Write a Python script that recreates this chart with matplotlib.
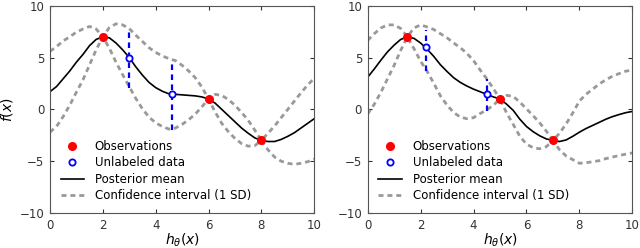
import matplotlib
matplotlib.use('Agg')
import matplotlib.pyplot as plt
import numpy as np

# grid the curves were read on (step 0.25)
x_grid = np.arange(0, 10.001, 0.25)

# left panel
mean_left = [1.7, 2.2, 2.95, 3.7, 4.55, 5.3, 6.15, 6.75, 7.0,
             6.9, 6.4, 5.75, 5.0, 4.1, 3.3, 2.6, 2.1, 1.75, 1.5, 1.45, 1.4, 1.35, 1.3, 1.2, 1.0,
             0.6, 0.0, -0.6, -1.2, -1.8, -2.3, -2.75, -3.0,
             -3.1, -3.1, -2.9, -2.6, -2.25, -1.8, -1.35, -0.9]
sd_left = [3.9, 3.85, 3.65, 3.3, 2.9, 2.45, 1.85, 1.0, 0.0,
           1.0, 1.85, 2.4, 2.8, 3.05, 3.25, 3.35, 3.4, 3.4, 3.4, 3.25, 2.85, 2.35, 1.75, 0.95, 0.0,
           0.85, 1.35, 1.55, 1.6, 1.5, 1.25, 0.75, 0.0,
           0.8, 1.5, 2.1, 2.6, 3.05, 3.4, 3.7, 3.9]
obs_x_left = [2, 6, 8]
obs_y_left = [7, 1, -3]
unl_x_left = [3.0, 4.6]
unl_y_left = [5.0, 1.45]
unl_lo_left = [2.1, -2.0]
unl_hi_left = [7.7, 4.75]

# right panel
mean_right = [3.1, 3.9, 4.75, 5.55, 6.2, 6.75, 7.0,
              6.85, 6.4, 5.8, 5.1, 4.3, 3.65, 3.05, 2.6, 2.25, 1.95, 1.7, 1.45, 1.2, 1.0,
              0.5, -0.1, -0.95, -1.65, -2.15, -2.55, -2.85, -3.0,
              -3.1, -2.95, -2.6, -2.2, -1.85, -1.55, -1.25, -0.95, -0.7, -0.5, -0.32, -0.2]
sd_right = [3.55, 3.4, 3.1, 2.6, 1.95, 1.05, 0.0,
            1.0, 1.75, 2.15, 2.6, 3.0, 3.25, 3.35, 3.35, 3.15, 2.75, 2.1, 1.5, 0.8, 0.0,
            0.85, 1.35, 1.65, 1.7, 1.55, 1.25, 0.75, 0.0,
            0.8, 1.55, 2.25, 3.0, 3.3, 3.5, 3.7, 3.8, 3.9, 3.95, 4.0, 4.0]
obs_x_right = [1.5, 5, 7]
obs_y_right = [7, 1, -3]
unl_x_right = [2.2, 4.5]
unl_y_right = [6.0, 1.45]
unl_lo_right = [3.7, -0.15]
unl_hi_right = [7.7, 2.95]

plt.rcParams['font.family'] = ['DejaVu Sans']
plt.rcParams['mathtext.fontset'] = 'dejavusans'

fig = plt.figure(figsize=(6.4, 2.48), dpi=100)
ax_l = fig.add_axes([0.078, 0.141, 0.413, 0.836])
ax_r = fig.add_axes([0.5745, 0.141, 0.4135, 0.836])

grey = '#999999'


def draw_panel(ax, mean, sd, ox, oy, ux, uy, ulo, uhi, ylabel=False):
    mean = np.array(mean)
    sd = np.array(sd)
    ax.plot(x_grid, mean + sd, color=grey, lw=2.0, ls=(0, (1.8, 1.4)),
            label='Confidence interval (1 SD)')
    ax.plot(x_grid, mean - sd, color=grey, lw=2.0, ls=(0, (1.8, 1.4)))
    ax.plot(x_grid, mean, color='black', lw=1.2, label='Posterior mean')
    ax.vlines(ux, ulo, uhi, colors='blue', linestyles=(0, (2.5, 2)), lw=1.6)
    ax.plot(ux, uy, 'o', mfc='white', mec='blue', mew=1.3, ms=4.5,
            label='Unlabeled data')
    ax.plot(ox, oy, 'o', color='red', mec='red', ms=5.5, label='Observations')

    ax.set_xlim(0, 10)
    ax.set_ylim(-10, 10)
    ax.set_xticks([0, 2, 4, 6, 8, 10])
    ax.set_yticks([-10, -5, 0, 5, 10])
    ax.tick_params(direction='in', length=3, top=True, right=True,
                   labelsize=8.5, colors='#333333', pad=4)
    for s in ax.spines.values():
        s.set_color('#555555')
    ax.set_xlabel(r'$h_\theta(x)$', fontsize=10, labelpad=0)
    if ylabel:
        ax.set_ylabel(r'$f(x)$', fontsize=10, labelpad=3)

    # legend order: observations first, CI last
    h, lab = ax.get_legend_handles_labels()
    order = [3, 2, 1, 0]
    ax.legend([h[i] for i in order], [lab[i] for i in order],
              loc='lower left', frameon=False, numpoints=1, fontsize=8.5,
              labelspacing=0.3, handlelength=2.0, handletextpad=0.9)


draw_panel(ax_l, mean_left, sd_left, obs_x_left, obs_y_left,
           unl_x_left, unl_y_left, unl_lo_left, unl_hi_left, ylabel=True)
draw_panel(ax_r, mean_right, sd_right, obs_x_right, obs_y_right,
           unl_x_right, unl_y_right, unl_lo_right, unl_hi_right)

fig.savefig('out.png', dpi=100)
